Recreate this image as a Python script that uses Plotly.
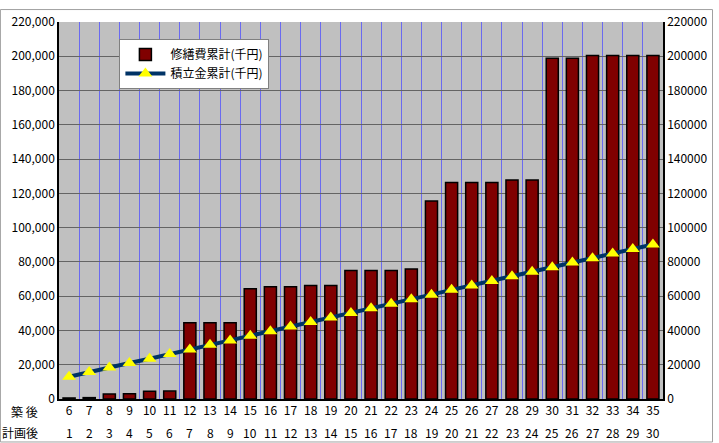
import plotly.graph_objects as go

# Years since construction (top label row) and years since plan start (bottom row)
years_built = [str(v) for v in range(6, 36)]
years_plan = [str(v) for v in range(1, 31)]

# Cumulative repair cost (thousand yen)
repair_cum = [600, 800, 2900, 3000, 4500, 4600,
              44500, 44500, 44500, 64400, 65500, 65500, 66200, 66200,
              75000, 75000, 75000, 75800, 115500, 126400, 126400, 126400,
              127800, 127800, 198900, 198900, 200400, 200400, 200400, 200400]

# Cumulative reserve fund (thousand yen)
reserve_cum = [13000, 15800, 18400, 21000, 23500, 26300, 28900, 31600, 34200, 36900,
               39500, 42300, 44900, 47600, 50200, 52900, 55600, 58200, 60900, 63700,
               66300, 68900, 71600, 74200, 76900, 79600, 82200, 84900, 87600, 90200]

y_ticks = list(range(0, 220001, 20000))
FONT = "Noto Sans CJK JP"

fig = go.Figure()
fig.add_trace(go.Bar(
    x=years_built, y=repair_cum, name="修繕費累計(千円)",
    marker=dict(color="#800000", line=dict(color="#000000", width=1.5)),
    yaxis="y",
))
fig.add_trace(go.Scatter(
    x=years_built, y=reserve_cum, name="積立金累計(千円)",
    mode="lines+markers",
    line=dict(color="#003366", width=4),
    marker=dict(symbol="triangle-up", size=12, color="#FFFF00"),
    yaxis="y2",
))

# Second row of category labels (positioned by category index)
for i, xp in enumerate(years_plan):
    fig.add_annotation(x=i, y=-0.089, xref="x", yref="paper", text=xp,
                       showarrow=False, font=dict(size=12, color="#000000"),
                       xanchor="center", yanchor="middle")
fig.add_annotation(x=-0.032, y=-0.032, xref="paper", yref="paper", text="築 後",
                   showarrow=False, font=dict(size=12, color="#000000"),
                   xanchor="right", yanchor="middle")
fig.add_annotation(x=-0.032, y=-0.089, xref="paper", yref="paper", text="計画後",
                   showarrow=False, font=dict(size=12, color="#000000"),
                   xanchor="right", yanchor="middle")

# Outer frame
fig.add_shape(type="rect", xref="paper", yref="paper",
              x0=-0.097, x1=1.082, y0=-0.114, y1=1.033,
              line=dict(color="#A0A0A0", width=1))

fig.update_layout(
    width=719, height=443,
    margin=dict(l=59, r=51, t=13, b=44),
    paper_bgcolor="#FFFFFF",
    plot_bgcolor="#C0C0C0",
    font=dict(family=FONT, size=12, color="#000000"),
    bargap=0.4,
    showlegend=True,
    legend=dict(x=0.1, y=0.955, xanchor="left", yanchor="top",
                bgcolor="#FFFFFF", bordercolor="#808080", borderwidth=1,
                font=dict(size=12), tracegroupgap=0, itemwidth=40),
    xaxis=dict(type="category", tickson="boundaries", showgrid=True,
               gridcolor="#6A6AF0", gridwidth=1, ticks="", showline=True,
               linecolor="#000000", linewidth=1.5, tickangle=0, dtick=1,
               range=[-0.5, 29.5], tickfont=dict(size=12)),
    yaxis=dict(range=[0, 220000], tickvals=y_ticks, tickformat=",",
               showgrid=True, gridcolor="#646464", gridwidth=1,
               showline=True, linecolor="#000000", linewidth=1.5,
               ticks="", zeroline=False, tickfont=dict(size=12)),
    yaxis2=dict(range=[0, 220000], tickvals=y_ticks, tickformat="d",
                overlaying="y", side="right", showgrid=False,
                showline=True, linecolor="#000000", linewidth=1.5,
                ticks="", zeroline=False, tickfont=dict(size=12)),
)

fig.write_html("out.html")
